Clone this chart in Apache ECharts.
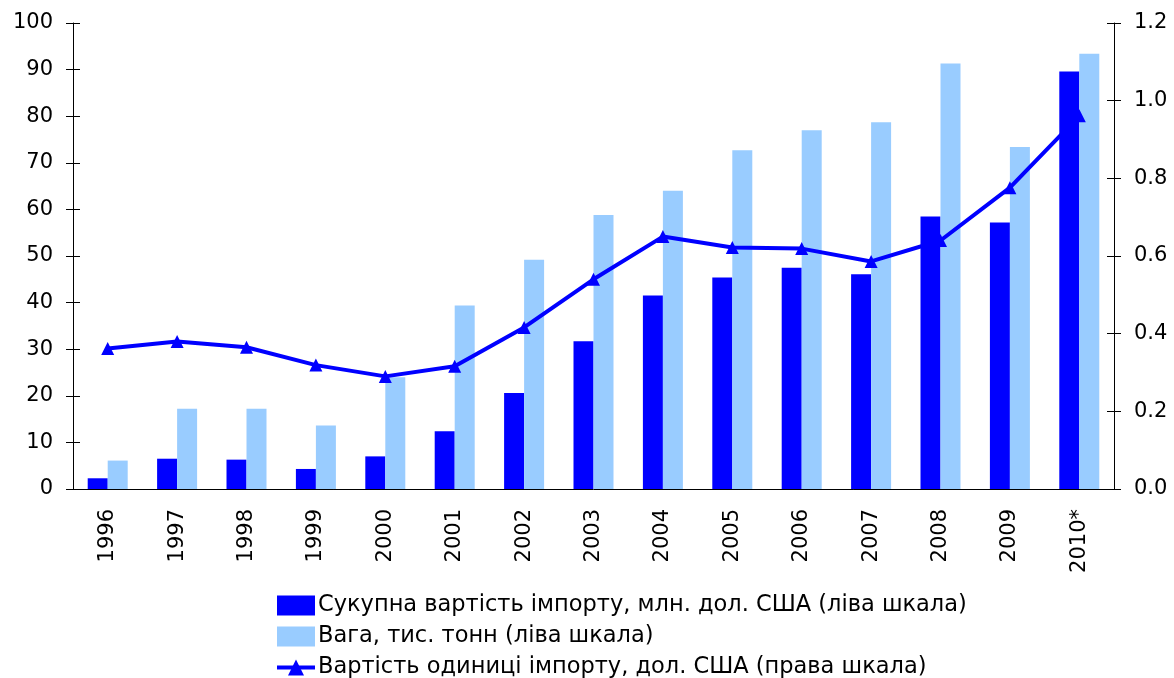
<!DOCTYPE html>
<html>
<head>
<meta charset="utf-8">
<script src="https://cdn.jsdelivr.net/npm/echarts@6/dist/echarts.min.js"></script>
<style>
  html, body { margin: 0; padding: 0; background: #fff; }
  #chart { width: 1174px; height: 678px; }
</style>
</head>
<body>
<div id="chart"></div>
<script>
const years = ['1996', '1997', '1998', '1999', '2000', '2001', '2002', '2003',
  '2004', '2005', '2006', '2007', '2008', '2009', '2010*'];
// сукупна вартість імпорту, млн. дол. США
const totalValue = [2.3, 6.5, 6.3, 4.3, 7.0, 12.4, 20.6, 31.7, 41.5, 45.4, 47.5, 46.1, 58.5, 57.2, 89.6];
// вага, тис. тонн
const weight = [6.1, 17.2, 17.2, 13.6, 24.0, 39.4, 49.2, 58.8, 64.0, 72.7, 77.0, 78.7, 91.3, 73.4, 93.4];
// вартість одиниці імпорту, дол. США
const unitValue = [0.362, 0.380, 0.365, 0.319, 0.290, 0.316, 0.416, 0.540, 0.650, 0.622, 0.619, 0.586, 0.640, 0.776, 0.961];

const names = [
  'Сукупна вартість імпорту, млн. дол. США (ліва шкала)',
  'Вага, тис. тонн (ліва шкала)',
  'Вартість одиниці імпорту, дол. США (права шкала)'
];

const font = 'DejaVu Sans, Verdana, sans-serif';
const chart = echarts.init(document.getElementById('chart'));

const tickStyle = { color: '#000', width: 1 };

chart.setOption({
  animation: false,
  grid: { left: 73, right: 60, top: 23, bottom: 189 },
  legend: {
    orient: 'vertical',
    left: 275,
    top: 594,
    height: 110,
    padding: 0,
    itemWidth: 38,
    itemHeight: 20,
    itemGap: 8,
    textStyle: { fontFamily: font, fontSize: 22.5, lineHeight: 20, color: '#000', padding: [0, 0, 0, -2] },
    data: [
      { name: names[0], icon: 'rect' },
      { name: names[1], icon: 'rect' },
      { name: names[2], lineStyle: { width: 4, color: '#0000ff' } }
    ]
  },
  xAxis: [
    {
      type: 'category',
      data: years,
      axisLine: { lineStyle: { color: '#000', width: 1 } },
      axisTick: { length: 7, lineStyle: tickStyle },
      axisLabel: { rotate: 90, margin: 20, fontFamily: font, fontSize: 21, color: '#000' }
    },
    {
      type: 'category',
      data: years,
      position: 'bottom',
      axisLine: { show: false },
      axisTick: { inside: true, length: 7, lineStyle: tickStyle },
      axisLabel: { show: false }
    }
  ],
  yAxis: [
    {
      type: 'value', min: 0, max: 100, interval: 10, position: 'left',
      splitLine: { show: false },
      axisLine: { show: true, lineStyle: { color: '#000', width: 1 } },
      axisTick: { show: true, length: 7, lineStyle: tickStyle },
      axisLabel: { margin: 20, fontFamily: font, fontSize: 21, color: '#000' }
    },
    {
      type: 'value', min: 0, max: 1.2, interval: 0.2, position: 'right',
      splitLine: { show: false },
      axisLine: { show: true, lineStyle: { color: '#000', width: 1 } },
      axisTick: { show: true, length: 7, lineStyle: tickStyle },
      axisLabel: { margin: 20, fontFamily: font, fontSize: 21, color: '#000',
        formatter: v => v.toFixed(1) }
    },
    {
      type: 'value', min: 0, max: 100, interval: 10, position: 'left',
      splitLine: { show: false }, axisLine: { show: false },
      axisTick: { show: true, inside: true, length: 7, lineStyle: tickStyle },
      axisLabel: { show: false }
    },
    {
      type: 'value', min: 0, max: 1.2, interval: 0.2, position: 'right',
      splitLine: { show: false }, axisLine: { show: false },
      axisTick: { show: true, inside: true, length: 7, lineStyle: tickStyle },
      axisLabel: { show: false }
    }
  ],
  series: [
    {
      name: names[0], type: 'bar', yAxisIndex: 0,
      data: totalValue, barWidth: 20, barGap: '0%',
      itemStyle: { color: '#0000ff' }
    },
    {
      name: names[1], type: 'bar', yAxisIndex: 0,
      data: weight, barWidth: 20, barGap: '0%',
      itemStyle: { color: '#99ccff' }
    },
    {
      name: names[2], type: 'line', yAxisIndex: 1,
      data: unitValue,
      symbol: 'triangle', symbolSize: 13,
      lineStyle: { color: '#0000ff', width: 4 },
      itemStyle: { color: '#0000ff' },
      z: 5
    }
  ]
});
</script>
</body>
</html>
